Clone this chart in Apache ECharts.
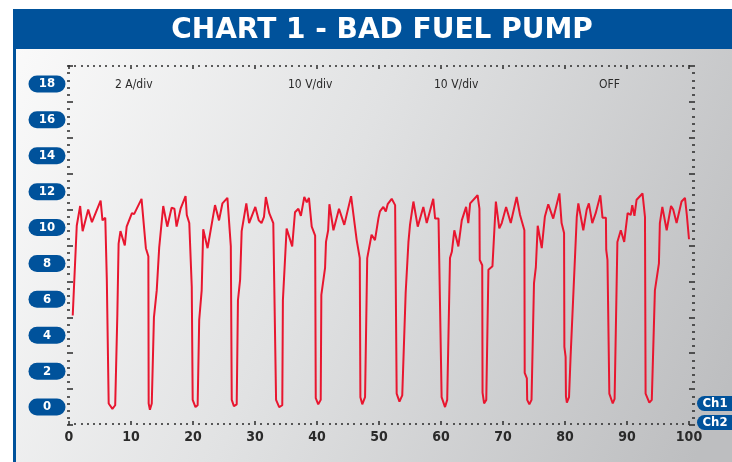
<!DOCTYPE html>
<html>
<head>
<meta charset="utf-8">
<style>
  html, body { margin: 0; padding: 0; background: #ffffff; }
  #chart { width: 732px; height: 462px; }
</style>
<script src="https://cdn.jsdelivr.net/npm/echarts@6/dist/echarts.min.js"></script>
</head>
<body>
<div id="chart"></div>
<script>
// ---- Data ----
const titleText = 'CHART 1 - BAD FUEL PUMP';
const channelNotes = ['2 A/div', '10 V/div', '10 V/div', 'OFF'];
const channelTags = ['Ch1', 'Ch2'];
const xTickLabels = [0, 10, 20, 30, 40, 50, 60, 70, 80, 90, 100];
const yTickLabels = [0, 2, 4, 6, 8, 10, 12, 14, 16, 18];
const yDivisionValues = [-1, 1, 3, 5, 7, 9, 11, 13, 15, 17, 19];
const yMin = -1, yMax = 19;
const xMin = 0, xMax = 100;

// time (0..100) of each trace sample
const traceT = [
  0.6,1.25,1.8,2.2,3.1,3.7,5.1,5.4,5.85,6.1,6.4,7.0,7.45,7.8,8.0,8.3,9.0,9.3,10.15,10.5,
  11.7,12.0,12.4,12.8,12.85,13.05,13.35,13.7,14.15,14.55,15.2,15.85,16.55,17.0,17.35,18.0,18.8,19.0,19.4,19.8,
  19.95,20.4,20.75,21.0,21.4,21.65,22.35,23.55,24.2,24.75,25.55,25.75,26.1,26.25,26.6,27.05,27.25,27.6,27.85,28.6,
  29.05,30.05,30.6,31.05,31.45,31.75,32.3,32.95,33.4,33.9,34.4,34.5,35.1,36.0,36.45,37.0,37.4,37.95,38.35,38.7,
  39.15,39.7,39.8,40.2,40.6,40.7,41.3,41.45,41.8,42.0,42.65,43.55,44.4,45.5,46.4,46.9,47.0,47.3,47.75,48.1,
  48.8,49.35,49.9,50.15,50.7,51.1,51.4,52.05,52.6,52.85,53.3,53.75,54.3,54.75,55.0,55.3,55.55,56.25,57.15,57.7,
  58.75,59.05,59.6,60.1,60.65,61.0,61.45,61.75,62.15,62.8,63.35,64.05,64.4,64.7,65.9,66.2,66.25,66.65,66.7,66.95,
  67.3,67.65,68.3,68.85,69.4,69.8,70.5,71.25,72.2,72.75,73.45,73.5,73.85,73.9,74.25,74.6,75.0,75.3,75.6,76.25,
  76.75,77.3,78.1,79.1,79.45,79.85,79.9,80.1,80.15,80.3,80.65,80.9,81.9,82.15,82.95,83.5,83.85,84.4,84.95,85.25,
  85.7,86.05,86.6,86.65,86.85,87.15,87.7,88.0,88.45,89.0,89.55,90.1,90.6,90.85,91.2,91.55,92.5,92.9,93.0,93.6,
  94.0,94.5,95.15,95.3,95.7,96.4,97.1,97.45,98.0,98.8,99.35,99.65,100.0
];
// Ch1 value of each trace sample
const traceV = [
  5.1,10.1,11.2,9.8,11.0,10.3,11.5,10.4,10.55,7.1,0.2,-0.1,0.1,5.2,9.1,9.8,9.0,10.05,10.8,10.75,
  11.6,11.5,8.85,8.4,0.2,-0.15,0.2,5.0,6.5,8.9,11.2,10.05,11.1,11.05,10.05,11.05,11.75,10.7,10.25,6.7,
  0.4,0.0,0.1,4.85,6.5,9.9,8.85,11.25,10.4,11.35,11.65,11.55,8.95,0.4,0.05,0.15,5.95,7.1,9.8,11.35,
  10.25,11.15,10.4,10.25,10.6,11.7,10.8,10.25,0.4,0.0,0.1,5.95,9.95,8.95,10.85,11.05,10.65,11.7,11.4,11.65,
  10.05,9.55,0.5,0.15,0.4,6.25,7.75,9.2,9.85,11.3,9.85,11.05,10.15,11.75,9.3,8.3,0.55,0.15,0.55,8.3,
  9.6,9.3,10.5,10.9,11.15,10.9,11.3,11.6,11.25,0.75,0.3,0.65,6.35,9.2,10.15,10.25,11.45,10.05,11.15,10.25,
  11.6,10.5,10.5,0.55,0.0,0.4,8.3,8.65,9.85,8.95,10.4,11.15,10.25,11.35,11.8,11.05,8.2,7.9,0.8,0.2,
  0.4,7.65,7.85,11.45,9.95,10.25,11.15,10.25,11.7,10.7,9.85,1.9,1.6,0.4,0.15,0.4,6.9,7.8,10.1,8.85,
  10.6,11.3,10.5,11.9,10.25,9.7,3.35,2.8,0.6,0.25,0.55,2.8,10.6,11.35,9.85,11.0,11.35,10.25,10.8,10.9,
  11.8,10.55,10.55,8.75,8.2,0.75,0.2,0.45,9.2,9.85,9.2,10.8,10.7,11.25,10.65,11.55,11.9,10.6,0.75,0.25,
  0.4,6.5,8.0,10.25,11.15,9.85,11.2,11.0,10.25,11.45,11.65,10.7,9.35
];

// minor graticule marks on the Ch1 scale: every 0.4 from -1 to 19
const yMinorValues = [];
for (let i = 0; i <= 50; i++) yMinorValues.push(Math.round((yMin + i * 0.4) * 10) / 10);

const seriesData = traceT.map((t, i) => [t, traceV[i]]);

// ---- Styling ----
const BLUE = '#00529b';
const RED = '#e8162f';
const TICK = '#2a2a2a';
const NARROW = "'Liberation Sans Narrow', 'DejaVu Sans Condensed', 'Roboto', sans-serif";

const chart = echarts.init(document.getElementById('chart'), null, { renderer: 'canvas' });

function yAxisDef(pos, offset, tickVals, len, withLabels) {
  return {
    type: 'value', position: pos, offset: offset, min: yMin, max: yMax,
    splitLine: { show: false },
    axisLine: { show: false, onZero: false },
    axisTick: { show: true, inside: true, length: len, customValues: tickVals,
                lineStyle: { color: TICK, width: 1.5 } },
    minorTick: { show: false },
    axisLabel: withLabels ? {
      show: true, customValues: yTickLabels, inside: false, margin: 20,
      color: '#ffffff', fontWeight: 'bold', fontSize: 13, fontFamily: NARROW,
      backgroundColor: BLUE, borderRadius: 9, width: 37, height: 17, lineHeight: 17,
      align: 'center', verticalAlign: 'middle'
    } : { show: false }
  };
}

function xAxisDef(pos, offset, withLabels) {
  return {
    type: 'value', position: pos, offset: offset, min: xMin, max: xMax, interval: 10,
    splitLine: { show: false },
    axisLine: { show: false, onZero: false },
    axisTick: { show: true, inside: true, length: 4, lineStyle: { color: TICK, width: 1.5 } },
    minorTick: { show: true, splitNumber: 10, length: 2, lineStyle: { color: TICK, width: 1.5 } },
    axisLabel: withLabels ? {
      show: true, margin: 5, color: '#2a2a2a', fontWeight: 'bold', fontSize: 14, fontFamily: NARROW,
      formatter: function (v) { return xTickLabels.indexOf(v) >= 0 ? String(v) : ''; }
    } : { show: false }
  };
}

const noteX = [115, 288, 434, 599];

const option = {
  animation: false,
  backgroundColor: '#ffffff',
  grid: { left: 69, right: 43, top: 66, bottom: 37, containLabel: false },
  xAxis: [ xAxisDef('bottom', 0, true), xAxisDef('top', 1, false) ],
  yAxis: [
    yAxisDef('left', 2, yDivisionValues, 6, true),
    yAxisDef('left', 2, yMinorValues, 3, false),
    yAxisDef('right', 6, yDivisionValues, 6, false),
    yAxisDef('right', 6, yMinorValues, 3, false)
  ],
  graphic: [
    { type: 'rect', z: -100, silent: true, shape: { x: 13, y: 9, width: 719, height: 40 }, style: { fill: BLUE } },
    { type: 'rect', z: -100, silent: true, shape: { x: 13, y: 49, width: 719, height: 413 },
      style: { fill: new echarts.graphic.LinearGradient(0, 0, 1, 0.8, [
        { offset: 0, color: '#fafafa' },
        { offset: 0.45, color: '#e1e2e3' },
        { offset: 1, color: '#bdbec0' }
      ]) } },
    { type: 'rect', z: -90, silent: true, shape: { x: 13, y: 49, width: 3, height: 413 }, style: { fill: BLUE } },
    { type: 'text', z: 10, silent: true, x: 382, y: 31,
      style: { text: titleText, fill: '#ffffff', font: "bold 28px 'DejaVu Sans', sans-serif",
               textAlign: 'center', textVerticalAlign: 'middle' } }
  ].concat(channelNotes.map((t, i) => ({
    type: 'text', z: 10, silent: true, x: noteX[i], y: 85,
    style: { text: t, fill: '#2b2b2b', font: "12px " + NARROW, textAlign: 'left', textVerticalAlign: 'middle' }
  }))).concat(channelTags.map((t, i) => ({
    type: 'group', z: 10, silent: true, x: 697, y: 396 + i * 19,
    children: [
      { type: 'rect', shape: { x: 0, y: 0, width: 50, height: 15, r: 7.5 }, style: { fill: BLUE } },
      { type: 'text', x: 18, y: 8, style: { text: t, fill: '#ffffff', font: "bold 13px " + NARROW,
        textAlign: 'center', textVerticalAlign: 'middle' } }
    ]
  }))),
  series: [{
    type: 'line', xAxisIndex: 0, yAxisIndex: 0, data: seriesData,
    showSymbol: false, symbol: 'none', z: 5,
    lineStyle: { color: RED, width: 2 }
  }]
};
chart.setOption(option);
</script>
</body>
</html>
